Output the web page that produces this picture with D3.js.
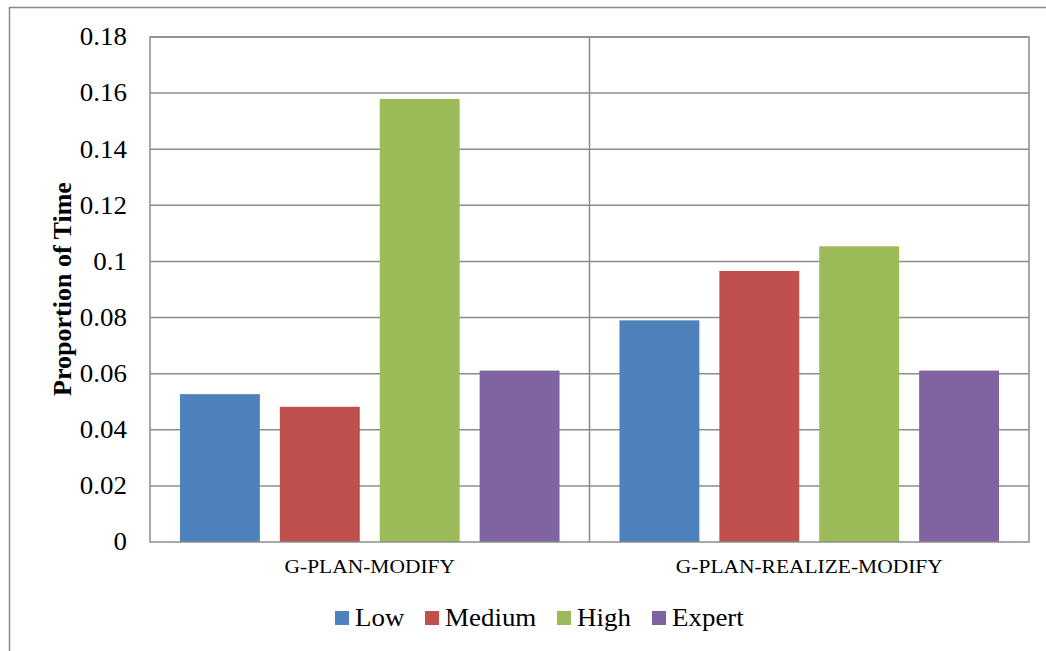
<!DOCTYPE html>
<html>
<head>
<meta charset="utf-8">
<script src="https://cdn.jsdelivr.net/npm/d3@7"></script>
<style>
  html, body { margin: 0; padding: 0; background: #fff; }
  svg { display: block; }
  svg text { font-family: "Liberation Serif", "DejaVu Serif", serif; fill: #000; }
</style>
</head>
<body>
<svg id="chart" width="1046" height="651"></svg>
<script>
// Proportion of time per task category, by expertise level
const categories = ["G-PLAN-MODIFY", "G-PLAN-REALIZE-MODIFY"];
const levels = ["Low", "Medium", "High", "Expert"];
const lowValues = [0.0527, 0.0790];
const mediumValues = [0.0482, 0.0966];
const highValues = [0.1579, 0.1054];
const expertValues = [0.0611, 0.0611];
const yTicks = [0, 0.02, 0.04, 0.06, 0.08, 0.1, 0.12, 0.14, 0.16, 0.18];
const colors = ["#4F81BD", "#C0504D", "#9BBB59", "#8064A2"];

const seriesValues = [lowValues, mediumValues, highValues, expertValues];
const rows = [];
categories.forEach((c, ci) => {
  levels.forEach((l, li) => rows.push({ category: c, level: l, value: seriesValues[li][ci] }));
});

const svg = d3.select("#chart");
const gridColor = "#8c8c8c";
const stretch = 1.1; // horizontal text widening

function widen(sel) {
  sel.each(function () {
    const w = this.getComputedTextLength();
    d3.select(this).attr("textLength", w * stretch).attr("lengthAdjust", "spacingAndGlyphs");
  });
}

// Outer chart frame
svg.append("rect")
  .attr("x", 9.5).attr("y", 7.5)
  .attr("width", 1060).attr("height", 660)
  .attr("fill", "none").attr("stroke", "#8a8a8a").attr("stroke-width", 1.5);

const plot = { left: 150, right: 1029, top: 37, bottom: 542 };

const x0 = d3.scaleBand().domain(categories).range([plot.left, plot.right]).padding(0);
const x1 = d3.scaleBand().domain(levels).range([0, x0.bandwidth()])
  .paddingInner(0.2).paddingOuter(0.3);
const y = d3.scaleLinear().domain([0, 0.18]).range([plot.bottom, plot.top]);
const color = d3.scaleOrdinal().domain(levels).range(colors);

// Horizontal gridlines
svg.append("g")
  .selectAll("line")
  .data(yTicks.filter(t => t > 0))
  .join("line")
  .attr("x1", plot.left).attr("x2", plot.right)
  .attr("y1", d => y(d)).attr("y2", d => y(d))
  .attr("stroke", gridColor).attr("stroke-width", 1.5);

// Category divider
svg.append("line")
  .attr("x1", x0(categories[1])).attr("x2", x0(categories[1]))
  .attr("y1", plot.top).attr("y2", plot.bottom)
  .attr("stroke", gridColor).attr("stroke-width", 1.5);

// Bars
svg.append("g")
  .selectAll("rect")
  .data(rows)
  .join("rect")
  .attr("x", d => x0(d.category) + x1(d.level))
  .attr("y", d => y(d.value))
  .attr("width", x1.bandwidth())
  .attr("height", d => y(0) - y(d.value))
  .attr("fill", d => color(d.level));

// Plot area border
svg.append("rect")
  .attr("x", plot.left).attr("y", plot.top)
  .attr("width", plot.right - plot.left).attr("height", plot.bottom - plot.top)
  .attr("fill", "none").attr("stroke", gridColor).attr("stroke-width", 1.5);

// Y axis
const yAxis = d3.axisLeft(y).tickValues(yTicks).tickSize(0).tickPadding(23)
  .tickFormat(d => d3.format("")(+d.toFixed(2)));
const gy = svg.append("g").attr("transform", `translate(${plot.left},0)`).call(yAxis);
gy.attr("font-family", null).attr("font-size", 24.5);
gy.select(".domain").remove();
widen(gy.selectAll("text"));

// X axis
const xAxis = d3.axisBottom(x0).tickSize(0).tickPadding(17);
const gx = svg.append("g").attr("transform", `translate(0,${plot.bottom})`).call(xAxis);
gx.attr("font-family", null).attr("font-size", 19.5);
gx.select(".domain").remove();
widen(gx.selectAll("text"));

// Y axis title
svg.append("text")
  .attr("transform", "translate(71,289) rotate(-90)")
  .attr("text-anchor", "middle")
  .attr("font-size", 26).attr("font-weight", "bold")
  .text("Proportion of Time");

// Legend
const legendX = [335, 425, 557, 652];
const legend = svg.append("g")
  .selectAll("g")
  .data(levels)
  .join("g")
  .attr("transform", (d, i) => `translate(${legendX[i]},611)`);
legend.append("rect")
  .attr("width", 14).attr("height", 14)
  .attr("fill", d => color(d));
legend.append("text")
  .attr("x", 20).attr("y", 15)
  .attr("font-size", 24.5)
  .text(d => d);
widen(legend.selectAll("text"));
</script>
</body>
</html>
